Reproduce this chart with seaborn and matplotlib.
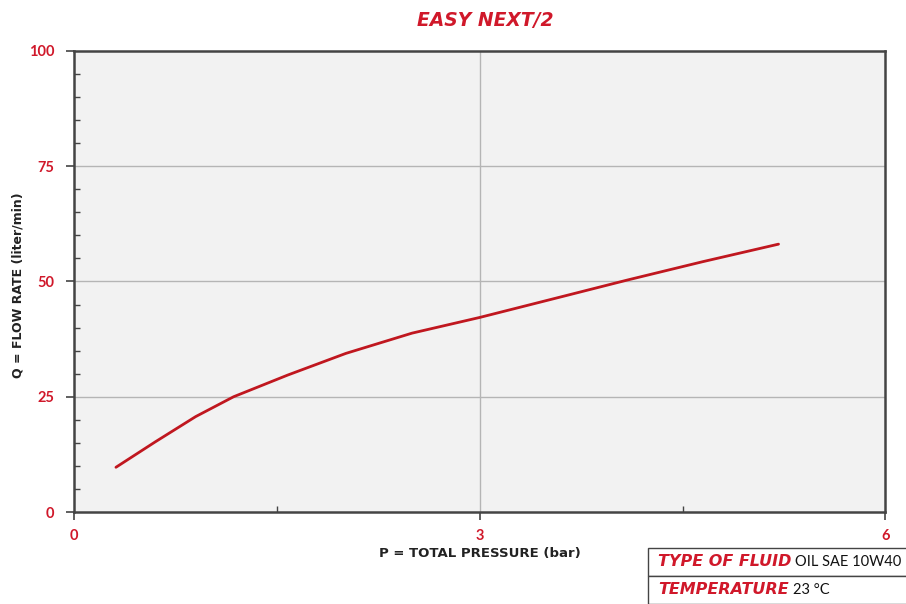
import matplotlib
matplotlib.use("Agg")
import matplotlib.pyplot as plt
import seaborn as sns
import pandas as pd
from matplotlib.patches import Rectangle

# Data
pressure_bar = [0.31, 0.60, 0.90, 1.18, 1.58, 2.01, 2.50, 3.00, 3.66, 4.09, 4.65, 5.21]
flow_lpm = [9.7, 15.2, 20.7, 25.0, 29.7, 34.4, 38.8, 42.2, 47.1, 50.3, 54.3, 58.1]
x_ticks = [0, 3, 6]
y_ticks = [0, 25, 50, 75, 100]
title = "EASY NEXT/2"
x_label = "P = TOTAL PRESSURE (bar)"
y_label = "Q = FLOW RATE (liter/min)"
table_rows = [("TYPE OF FLUID", "OIL SAE 10W40"), ("TEMPERATURE", "23 °C")]

RED = "#d0182a"
LINE_RED = "#c0171f"
SPINE = "#444444"

sns.set_theme(style="white")
plt.rcParams['font.family'] = ['DejaVu Sans']

fig = plt.figure(figsize=(9.06, 6.04), dpi=100)
ax = fig.add_axes([0.0817, 0.1523, 0.8955, 0.7633])
ax.set_facecolor("#f2f2f2")

df = pd.DataFrame({"p": pressure_bar, "q": flow_lpm})
sns.lineplot(data=df, x="p", y="q", ax=ax, color=LINE_RED, linewidth=2.0, sort=True)

ax.set_xlim(0, 6)
ax.set_ylim(0, 100)
ax.set_xticks(x_ticks)
ax.set_yticks(y_ticks)
ax.set_xticks([1.5, 4.5], minor=True)
ax.set_yticks([v for v in range(5, 100, 5) if v % 25 != 0], minor=True)

ax.grid(False)
for v in [25, 50, 75]:
    ax.axhline(v, color="#b5b5b5", linewidth=1.0, zorder=0.5)
ax.axvline(3, color="#b5b5b5", linewidth=1.0, zorder=0.5)

for s in ax.spines.values():
    s.set_color(SPINE)
    s.set_linewidth(1.8)

ax.tick_params(axis="both", which="major", direction="out", length=6, width=1.2,
               color=SPINE, labelcolor=RED, labelsize=10.5, bottom=True, left=True)
ax.tick_params(axis="both", which="minor", direction="in", length=4, width=1.0,
               color=SPINE, bottom=True, left=True)
ax.tick_params(axis="x", pad=6)
ax.tick_params(axis="y", pad=8)
ax.set_xticklabels([str(v) for v in x_ticks], fontweight="bold", family=['Lato', 'DejaVu Sans'])
ax.set_yticklabels([str(v) for v in y_ticks], fontweight="bold", family=['Lato', 'DejaVu Sans'])

ax.set_xlabel("")
ax.set_ylabel("")
fig.text(480 / 906, 1 - 554 / 604, x_label, ha="center", va="center", fontsize=9.5,
         color="#222222", fontweight="bold")
fig.text(18 / 906, 1 - 285 / 604, y_label, ha="center", va="center", fontsize=9,
         color="#222222", fontweight="bold", rotation=90)

fig.text(485 / 906, 1 - 20 / 604, title, ha="center", va="center", fontsize=13.5,
         color=RED, fontweight="bold", fontstyle="italic")

# Info table, bottom right
x0, w = 648 / 906, 1.0
row_h = 28 / 604
y_top = 1 - 548 / 604
for i, (k, v) in enumerate(table_rows):
    yb = y_top - (i + 1) * row_h
    fig.patches.append(Rectangle((x0, yb), w, row_h, transform=fig.transFigure,
                                 facecolor="white", edgecolor=SPINE, linewidth=1.0))
    t = fig.text(x0 + 10 / 906, yb + row_h / 2, k, ha="left", va="center",
                 fontsize=11.5, color=RED, fontweight="bold", fontstyle="italic")
    fig.canvas.draw()
    bb = t.get_window_extent()
    x_next = bb.x1 / fig.bbox.width + 4 / 906
    fig.text(x_next, yb + row_h / 2, v, ha="left", va="center", fontsize=10.5,
             color="#111111", family=['Lato', 'DejaVu Sans'])

fig.savefig("out.png", dpi=100)
